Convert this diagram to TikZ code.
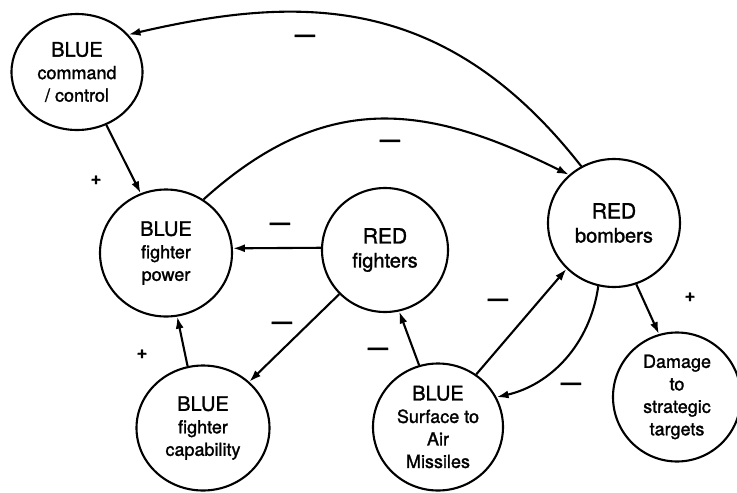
\documentclass[tikz,border=0pt]{standalone}
\usepackage{fontspec}
\setmainfont{TeX Gyre Heros}[FakeBold=1.5]
\usetikzlibrary{shapes.geometric,arrows.meta}
\begin{document}
\begin{tikzpicture}[x=1pt,y=-1pt,
  state/.style={ellipse,draw,line width=2.1pt,inner sep=0pt,align=center,
    font=\fontsize{18}{22.5}\selectfont},
  big/.style={font=\fontsize{20}{24}\selectfont},
  link/.style={line width=2.1pt,-{Latex[length=12pt,width=8pt]}},
  minus/.style={font=\fontsize{20}{20}\selectfont\bfseries,inner sep=0pt},
  plus/.style={font=\bfseries\fontsize{18}{18}\selectfont,inner sep=0pt}]
\useasboundingbox (0,0) rectangle (737,493);
% nodes
\node[state,minimum width=131pt,minimum height=116pt] (cc) at (77,72)
  {{\fontsize{20}{22.5}\selectfont BLUE}\\command\\/ control};
\node[state,minimum width=132pt,minimum height=127pt] (fp) at (166,253)
  {{\fontsize{20}{22.5}\selectfont BLUE}\\fighter\\power};
\node[state,big,minimum width=126pt,minimum height=124pt] (rf) at (385,250)
  {{\fontsize{21}{24}\selectfont RED}\\fighters};
\node[state,big,minimum width=132pt,minimum height=128pt] (rb) at (614,223)
  {{\fontsize{21}{24}\selectfont RED}\\bombers};
\node[state,minimum width=133pt,minimum height=125pt] (fc) at (203,428)
  {{\fontsize{20}{22.5}\selectfont BLUE}\\fighter\\capability};
\node[state,minimum width=130pt,minimum height=127pt] (sam) at (438,427)
  {{\fontsize{20}{22.5}\selectfont BLUE}\\Surface to\\Air\\Missiles};
\node[state,minimum width=128pt,minimum height=129pt] (dmg) at (677,397)
  {Damage\\to\\strategic\\targets};
% connectors
\draw[link] (rb.120) .. controls (445,-8) and (299,-5) .. (cc.36);
\draw[link] (fp.55) .. controls (329,86) and (432,107) .. (rb.133);
\draw[link] (rf.178) -- (fp.4);
\draw[link] (rf.224) -- (fc.45);
\draw[link] (fc.104) -- (fp.280);
\draw[link] (cc.299) -- (fp.113);
\draw[link] (sam.107) -- (rf.283);
\draw[link] (sam.54) -- (rb.224);
\draw[link] (rb.256) .. controls (590,345) and (550,385) .. (sam.27);
\draw[link] (rb.290) -- (dmg.106);
% signs
\node[minus] (s1) at (305,38) {—};
\node[minus] (s2) at (390,143) {—};
\node[minus] (s3) at (280,226) {—};
\node[minus] (s4) at (282,325) {—};
\node[plus]  (s5) at (142,354) {+};
\node[plus]  (s6) at (96,180) {+};
\node[minus] (s7) at (378,351) {—};
\node[minus] (s8) at (498,302) {—};
\node[minus] (s9) at (571,386) {—};
\node[plus]  (s10) at (690,297) {+};
\end{tikzpicture}
\end{document}
